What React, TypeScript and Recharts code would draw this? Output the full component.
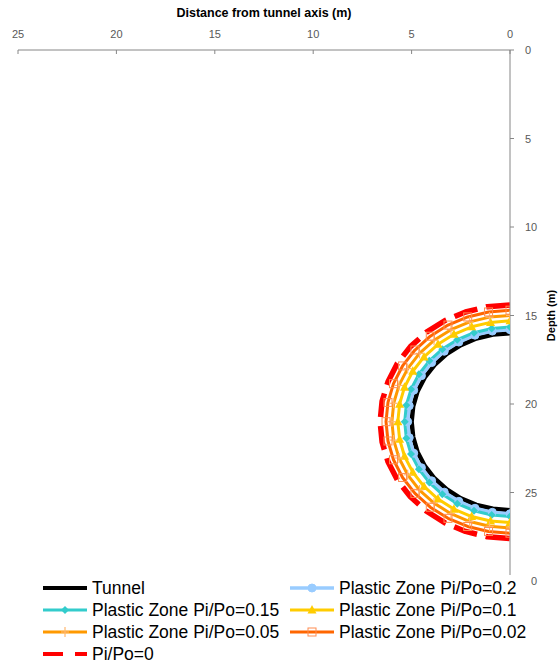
import { LineChart, Line, XAxis, YAxis } from "recharts"

const xTicks = [0, 5, 10, 15, 20, 25]
const depthTicks = [0, 5, 10, 15, 20, 25, 30]

// [distance from tunnel axis, depth], 10° apart from crown to invert
const tunnel = [
  [0, 16], [0.87, 16.08], [1.71, 16.3], [2.5, 16.67], [3.21, 17.17], [3.83, 17.79], [4.33, 18.5],
  [4.7, 19.29], [4.92, 20.13], [5, 21], [4.92, 21.87], [4.7, 22.71], [4.33, 23.5], [3.83, 24.21],
  [3.21, 24.83], [2.5, 25.33], [1.71, 25.7], [0.87, 25.92], [0, 26],
]
const zone020 = [
  [0, 15.8], [0.9, 15.88], [1.78, 16.11], [2.6, 16.5], [3.34, 17.02], [3.98, 17.66], [4.5, 18.4],
  [4.89, 19.22], [5.12, 20.1], [5.2, 21], [5.12, 21.9], [4.89, 22.78], [4.5, 23.6], [3.98, 24.34],
  [3.34, 24.98], [2.6, 25.5], [1.78, 25.89], [0.9, 26.12], [0, 26.2],
]
const zone015 = [
  [0, 15.65], [0.93, 15.73], [1.83, 15.97], [2.68, 16.37], [3.44, 16.9], [4.1, 17.56], [4.63, 18.32],
  [5.03, 19.17], [5.27, 20.07], [5.35, 21], [5.27, 21.93], [5.03, 22.83], [4.63, 23.68], [4.1, 24.44],
  [3.44, 25.1], [2.68, 25.63], [1.83, 26.03], [0.93, 26.27], [0, 26.35],
]
const zone010 = [
  [0, 15.3], [0.99, 15.39], [1.95, 15.64], [2.85, 16.06], [3.66, 16.63], [4.37, 17.34], [4.94, 18.15],
  [5.36, 19.05], [5.61, 20.01], [5.7, 21], [5.61, 21.99], [5.36, 22.95], [4.94, 23.85], [4.37, 24.66],
  [3.66, 25.37], [2.85, 25.94], [1.95, 26.36], [0.99, 26.61], [0, 26.7],
]
const zone005 = [
  [0, 15], [1.04, 15.09], [2.05, 15.36], [3, 15.8], [3.86, 16.4], [4.6, 17.14], [5.2, 18],
  [5.64, 18.95], [5.91, 19.96], [6, 21], [5.91, 22.04], [5.64, 23.05], [5.2, 24], [4.6, 24.86],
  [3.86, 25.6], [3, 26.2], [2.05, 26.64], [1.04, 26.91], [0, 27],
]
const zone002 = [
  [0, 14.7], [1.09, 14.8], [2.15, 15.08], [3.15, 15.54], [4.05, 16.17], [4.83, 16.95], [5.46, 17.85],
  [5.92, 18.85], [6.2, 19.91], [6.3, 21], [6.2, 22.09], [5.92, 23.15], [5.46, 24.15], [4.83, 25.05],
  [4.05, 25.83], [3.15, 26.46], [2.15, 26.92], [1.09, 27.2], [0, 27.3],
]
const zone000 = [
  [0, 14.4], [1.15, 14.5], [2.26, 14.8], [3.3, 15.28], [4.24, 15.94], [5.06, 16.76], [5.72, 17.7],
  [6.2, 18.74], [6.5, 19.85], [6.6, 21], [6.5, 22.15], [6.2, 23.26], [5.72, 24.3], [5.06, 25.24],
  [4.24, 26.06], [3.3, 26.72], [2.26, 27.2], [1.15, 27.5], [0, 27.6],
]

type Marker = "circle" | "diamond" | "triangle" | "plus" | "square" | null

const series: {
  name: string
  points: number[][]
  color: string
  width: number
  dash?: string
  marker: Marker
  markerColor?: string
}[] = [
  { name: "Tunnel", points: tunnel, color: "#000000", width: 4.5, marker: null },
  { name: "Plastic Zone Pi/Po=0.2", points: zone020, color: "#99CCFF", width: 3.5, marker: "circle" },
  { name: "Plastic Zone Pi/Po=0.15", points: zone015, color: "#33CCCC", width: 3, marker: "diamond" },
  { name: "Plastic Zone Pi/Po=0.1", points: zone010, color: "#FFCC00", width: 3, marker: "triangle" },
  { name: "Plastic Zone Pi/Po=0.05", points: zone005, color: "#FF9900", width: 3, marker: "plus", markerColor: "#FFB870" },
  { name: "Plastic Zone Pi/Po=0.02", points: zone002, color: "#FF6600", width: 3, marker: "square", markerColor: "#FF8C50" },
  { name: "Pi/Po=0", points: zone000, color: "#FF0000", width: 5.5, dash: "24 9", marker: null },
]

const FONT = "'Liberation Sans', Arial, sans-serif"
const AXIS = "#868686"
const TICK_TEXT = "#595959"

function markerShape(kind: Marker, cx: number, cy: number, color: string, key?: string | number) {
  switch (kind) {
    case "circle":
      return <circle key={key} cx={cx} cy={cy} r={4} fill={color} stroke={color} />
    case "diamond":
      return (
        <polygon key={key} points={`${cx},${cy - 4} ${cx + 4},${cy} ${cx},${cy + 4} ${cx - 4},${cy}`} fill={color} />
      )
    case "triangle":
      return (
        <polygon key={key} points={`${cx},${cy - 5} ${cx + 4.5},${cy + 3.5} ${cx - 4.5},${cy + 3.5}`} fill={color} />
      )
    case "plus":
      return (
        <g key={key}>
          <line x1={cx} x2={cx} y1={cy - 5} y2={cy + 5} stroke={color} strokeWidth={1.2} />
          <line x1={cx - 4} x2={cx + 4} y1={cy} y2={cy} stroke={color} strokeWidth={1.2} />
        </g>
      )
    case "square":
      return <rect key={key} x={cx - 4} y={cy - 4} width={8} height={8} fill="none" stroke={color} strokeWidth={1} />
    default:
      return <g key={key} />
  }
}

function XTick(props: any) {
  const { x, y, payload } = props
  return (
    <g>
      <line x1={x} x2={x} y1={y} y2={y + 4} stroke={AXIS} />
      <text x={x} y={y - 12} textAnchor="middle" fontSize={11} fill={TICK_TEXT} fontFamily={FONT}>
        {payload.value}
      </text>
    </g>
  )
}

function YTick(props: any) {
  const { x, y, payload } = props
  return (
    <g>
      <line x1={x} x2={x + 4} y1={y} y2={y} stroke={AXIS} />
      <text x={x + 15} y={y + 4} textAnchor="start" fontSize={11} fill={TICK_TEXT} fontFamily={FONT}>
        {payload.value}
      </text>
    </g>
  )
}

function LegendBox() {
  const cols = [43, 290]
  const rows = [588, 610, 632, 654]
  return (
    <div style={{ position: "absolute", left: 0, top: 575, width: 531, height: 91, background: "#fff" }}>
      {series.map((s, i) => {
        const left = cols[i % 2]
        const top = rows[Math.floor(i / 2)] - 575 - 9
        return (
          <div key={s.name} style={{ position: "absolute", left, top, display: "flex", alignItems: "center", height: 18 }}>
            <svg width={44} height={18} style={{ display: "block" }}>
              <line
                x1={0}
                x2={44}
                y1={9}
                y2={9}
                stroke={s.color}
                strokeWidth={Math.min(s.width, 4)}
                strokeDasharray={s.dash ? "20 12" : undefined}
              />
              {markerShape(s.marker, 22, 9, s.markerColor ?? s.color)}
            </svg>
            <span style={{ marginLeft: 5, fontSize: 17.5, fontFamily: FONT, color: "#000", lineHeight: "18px", whiteSpace: "nowrap" }}>
              {s.name}
            </span>
          </div>
        )
      })}
    </div>
  )
}

export default function App() {
  return (
    <div style={{ position: "absolute", left: 0, top: 0, width: 558, height: 666, background: "#fff" }}>
      <LineChart width={558} height={666} margin={{ top: 0, right: 0, bottom: 85, left: 18 }}>
        <XAxis
          dataKey="x"
          type="number"
          orientation="top"
          reversed
          domain={[0, 25]}
          ticks={xTicks}
          height={50}
          tickSize={0}
          tickMargin={0}
          tick={<XTick />}
          axisLine={{ stroke: AXIS }}
          allowDataOverflow
          label={{
            value: "Distance from tunnel axis (m)",
            position: "insideTop",
            offset: 8,
            style: { fontSize: 12.5, fontWeight: 700, fill: "#000", fontFamily: FONT },
          }}
        />
        <YAxis
          dataKey="d"
          type="number"
          orientation="right"
          reversed
          domain={[0, 30]}
          ticks={depthTicks}
          width={48}
          tickSize={0}
          tickMargin={0}
          tick={<YTick />}
          axisLine={{ stroke: AXIS }}
          allowDataOverflow
          label={{
            value: "Depth (m)",
            angle: -90,
            position: "center",
            dx: 17,
            style: { fontSize: 11, fontWeight: 700, fill: "#000", fontFamily: FONT },
          }}
        />
        {series.map((s) => (
          <Line
            key={s.name}
            data={s.points.map(([x, d]) => ({ x, d }))}
            dataKey="d"
            name={s.name}
            stroke={s.color}
            strokeWidth={s.width}
            strokeDasharray={s.dash}
            strokeLinejoin="round"
            isAnimationActive={false}
            dot={
              s.marker
                ? (p: any) => markerShape(s.marker, p.cx, p.cy, s.markerColor ?? s.color, `${s.name}-${p.index}`)
                : false
            }
            activeDot={false}
          />
        ))}
      </LineChart>
      <LegendBox />
    </div>
  )
}
